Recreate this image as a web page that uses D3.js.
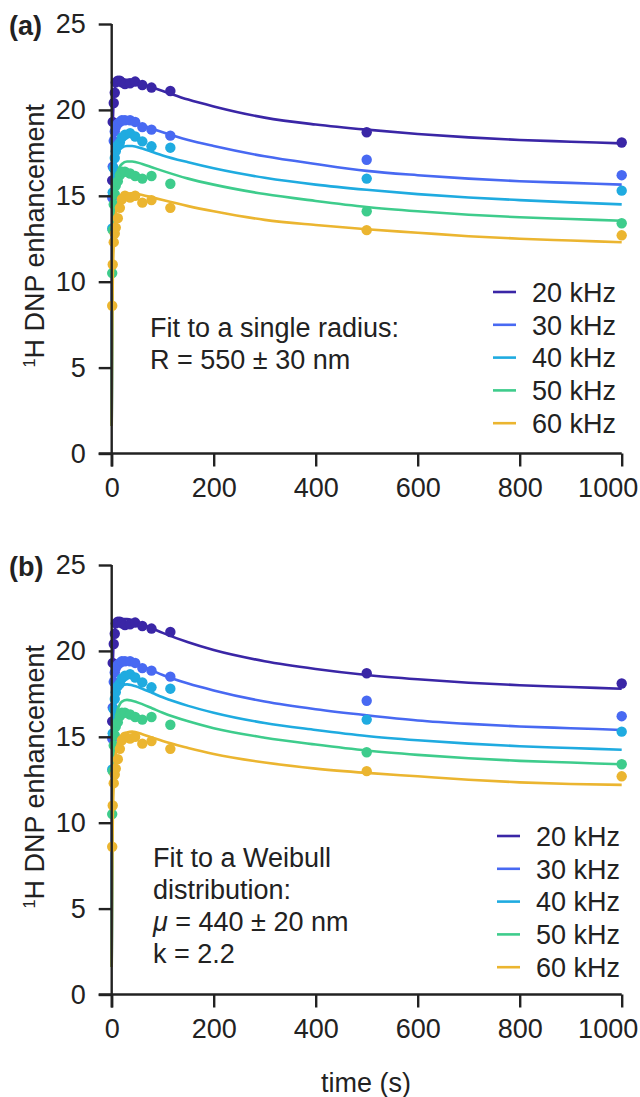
<!DOCTYPE html>
<html>
<head>
<meta charset="utf-8">
<script src="https://cdn.jsdelivr.net/npm/d3@7"></script>
<style>
  html, body { margin: 0; padding: 0; background: #fff; }
  svg { display: block; font-family: "Liberation Sans", Arial, Helvetica, sans-serif; }
  text { fill: #222; }
</style>
</head>
<body>
<svg id="chart" width="640" height="1097"></svg>
<script>
// Frequencies (MAS rates) and their colours
const series = ["20 kHz", "30 kHz", "40 kHz", "50 kHz", "60 kHz"];
const colors = ["#3a26a6", "#4869f2", "#1fabe0", "#3ecc8c", "#ebb530"];

// Measured build-up times (s)
const times = [1, 2, 4, 6, 8, 12, 16, 20, 26, 36, 46, 60, 78, 115, 500, 1000];

// Measured 1H DNP enhancements, one array per MAS rate
const meas20 = [15.9, 19.3, 20.4, 21.0, 21.6, 21.7, 21.7, 21.6, 21.5, 21.55, 21.65, 21.45, 21.3, 21.1, 18.7, 18.1];
const meas30 = [14.9, 16.7, 18.2, 18.75, 19.0, 19.2, 19.3, 19.4, 19.4, 19.4, 19.3, 19.0, 18.85, 18.5, 17.1, 16.2];
const meas40 = [13.1, 15.2, 16.6, 17.2, 17.6, 17.95, 18.1, 18.4, 18.55, 18.65, 18.45, 18.17, 17.88, 17.8, 16.0, 15.3];
const meas50 = [10.5, 13.0, 14.5, 15.1, 15.6, 15.85, 16.2, 16.4, 16.4, 16.3, 16.15, 16.0, 16.15, 15.7, 14.1, 13.4];
const meas60 = [8.6, 11.0, 12.3, 12.8, 13.15, 13.7, 14.3, 14.8, 15.0, 14.9, 15.0, 14.6, 14.75, 14.3, 13.0, 12.7];

// Times at which the fitted curves are sampled (s)
const fitTimes = [0, 1, 2, 4, 6, 8, 12, 16, 20, 30, 40, 60, 80, 100, 150, 200, 300, 400, 500, 600, 700, 800, 900, 1000];

// Fit (a): single radius
const fitA20 = [1.6, 15, 18.8, 20.6, 21.2, 21.45, 21.6, 21.7, 21.75, 21.75, 21.7, 21.5, 21.3, 21.1, 20.6, 20.2, 19.55, 19.15, 18.85, 18.6, 18.4, 18.25, 18.15, 18.05];
const fitA30 = [1.6, 12.5, 15.8, 17.9, 18.6, 18.95, 19.2, 19.3, 19.35, 19.35, 19.3, 19.1, 18.9, 18.7, 18.25, 17.9, 17.3, 16.85, 16.45, 16.2, 16.0, 15.85, 15.75, 15.65];
const fitA40 = [1.6, 10, 13.2, 15.6, 16.6, 17.1, 17.5, 17.7, 17.8, 17.9, 17.9, 17.75, 17.55, 17.35, 16.95, 16.6, 16.05, 15.65, 15.35, 15.1, 14.9, 14.75, 14.62, 14.5];
const fitA50 = [1.6, 8.5, 11.5, 14.0, 15.2, 15.8, 16.4, 16.7, 16.85, 17.0, 17.0, 16.85, 16.65, 16.45, 16.0, 15.65, 15.1, 14.7, 14.35, 14.1, 13.9, 13.75, 13.65, 13.55];
const fitA60 = [1.6, 7, 9.8, 12.2, 13.3, 13.9, 14.5, 14.8, 14.95, 15.1, 15.15, 15.05, 14.9, 14.75, 14.4, 14.1, 13.6, 13.3, 13.05, 12.85, 12.65, 12.5, 12.4, 12.3];

// Fit (b): Weibull distribution of radii
const fitB20 = [1.6, 15, 18.8, 20.6, 21.2, 21.5, 21.7, 21.8, 21.85, 21.85, 21.8, 21.55, 21.3, 21.05, 20.5, 20.05, 19.4, 18.95, 18.6, 18.35, 18.15, 18.0, 17.9, 17.8];
const fitB30 = [1.6, 12.5, 15.8, 17.9, 18.7, 19.05, 19.3, 19.4, 19.45, 19.45, 19.35, 19.1, 18.85, 18.6, 18.1, 17.7, 17.05, 16.6, 16.25, 15.95, 15.75, 15.6, 15.5, 15.4];
const fitB40 = [1.6, 10, 13.2, 15.7, 16.8, 17.3, 17.7, 17.9, 18.0, 18.05, 18.0, 17.8, 17.55, 17.3, 16.8, 16.4, 15.8, 15.4, 15.05, 14.8, 14.6, 14.45, 14.35, 14.25];
const fitB50 = [1.6, 8.5, 11.5, 14.2, 15.4, 16.0, 16.6, 16.9, 17.05, 17.15, 17.1, 16.9, 16.65, 16.4, 15.9, 15.5, 14.95, 14.55, 14.2, 13.95, 13.75, 13.6, 13.5, 13.4];
const fitB60 = [1.6, 7, 9.8, 12.3, 13.4, 14.0, 14.6, 14.95, 15.1, 15.25, 15.3, 15.15, 14.95, 14.75, 14.35, 14.0, 13.5, 13.15, 12.9, 12.7, 12.5, 12.35, 12.25, 12.2];

// Axis ticks
const xTicks = [0, 200, 400, 600, 800, 1000];
const yTicks = [0, 5, 10, 15, 20, 25];

const measured = [meas20, meas30, meas40, meas50, meas60];
const panels = [
  { tag: "(a)", top: 24, bottom: 453.5, fits: [fitA20, fitA30, fitA40, fitA50, fitA60],
    note: [["Fit to a single radius:"], ["R = 550 ± 30 nm"]], noteX: 150, noteY: 337,
    legX: 493, legY: 292 },
  { tag: "(b)", top: 565, bottom: 994.5, fits: [fitB20, fitB30, fitB40, fitB50, fitB60],
    note: [["Fit to a Weibull"], ["distribution:"], ["μ", " = 440 ± 20 nm"], ["k = 2.2"]], noteX: 153, noteY: 867,
    legX: 497, legY: 836 }
];

const svg = d3.select("#chart");
const x = d3.scaleLinear().domain([0, 1000]).range([111.7, 621.7]);
const FS = 27;
const tickLen = 13;
const axisColor = "#222";

panels.forEach((p, pi) => {
  const y = d3.scaleLinear().domain([0, 25]).range([p.bottom, p.top]);
  const g = svg.append("g");

  // Fitted curves and measured points
  p.fits.forEach((fit, si) => {
    const line = d3.line()
      .x((d, i) => x(fitTimes[i]))
      .y(d => y(d))
      .curve(d3.curveMonotoneX);
    g.append("path")
      .datum(fit)
      .attr("d", line)
      .attr("fill", "none")
      .attr("stroke", colors[si])
      .attr("stroke-width", 2.6);
    g.append("g").selectAll("circle")
      .data(measured[si])
      .join("circle")
      .attr("cx", (d, i) => x(times[i]))
      .attr("cy", d => y(d))
      .attr("r", 5.2)
      .attr("fill", colors[si]);
  });

  // Axes
  const xAxis = d3.axisBottom(x).tickValues(xTicks).tickFormat(d3.format("d"))
    .tickSize(tickLen).tickSizeOuter(0).tickPadding(10);
  const yAxis = d3.axisLeft(y).tickValues(yTicks).tickFormat(d3.format("d"))
    .tickSize(tickLen).tickSizeOuter(0).tickPadding(13);

  const gx = g.append("g").attr("transform", `translate(0,${p.bottom})`).call(xAxis);
  const gy = g.append("g").attr("transform", `translate(${x(0)},0)`).call(yAxis);
  [gx, gy].forEach(a => {
    a.select(".domain").remove();
    a.selectAll("line").attr("stroke", axisColor).attr("stroke-width", 2.4);
    a.selectAll("text").attr("font-size", FS).attr("fill", "#222")
      .attr("font-family", "'Liberation Sans', Arial, sans-serif");
  });
  gx.selectAll("text").attr("dy", "0.76em");
  // keep the last x label inside the frame
  gx.selectAll(".tick").filter(d => d === 1000).select("text")
    .attr("text-anchor", "end").attr("x", 16);

  // axis lines crossing at the origin
  g.append("line")
    .attr("x1", x(0) - tickLen).attr("x2", x(1000))
    .attr("y1", y(0)).attr("y2", y(0))
    .attr("stroke", axisColor).attr("stroke-width", 2.4);
  g.append("line")
    .attr("x1", x(0)).attr("x2", x(0))
    .attr("y1", y(25)).attr("y2", y(0) + tickLen)
    .attr("stroke", axisColor).attr("stroke-width", 2.4);

  // Panel tag
  g.append("text")
    .attr("x", 9).attr("y", p.top + 11)
    .attr("font-size", FS).attr("font-weight", "bold")
    .text(p.tag);

  // Y-axis title
  const yt = g.append("text")
    .attr("transform", `translate(44,${(p.top + p.bottom) / 2 - 3}) rotate(-90)`)
    .attr("text-anchor", "middle")
    .attr("font-size", FS);
  yt.append("tspan").attr("font-size", FS * 0.6).attr("dy", -9).text("1");
  yt.append("tspan").attr("dy", 9).text("H DNP enhancement");

  // Fit annotation
  p.note.forEach((parts, li) => {
    const t = g.append("text")
      .attr("x", p.noteX).attr("y", p.noteY + li * 32)
      .attr("font-size", FS);
    if (parts.length === 2) {
      t.append("tspan").attr("font-style", "italic").text(parts[0]);
      t.append("tspan").text(parts[1]);
    } else {
      t.text(parts[0]);
    }
  });

  // Legend
  const leg = g.append("g");
  series.forEach((name, si) => {
    const yy = p.legY + si * 32.8;
    leg.append("line")
      .attr("x1", p.legX).attr("x2", p.legX + 23)
      .attr("y1", yy).attr("y2", yy)
      .attr("stroke", colors[si]).attr("stroke-width", 2.6);
    leg.append("text")
      .attr("x", p.legX + 39).attr("y", yy)
      .attr("dy", "0.36em")
      .attr("font-size", FS)
      .text(name);
  });
});

// X-axis title
svg.append("text")
  .attr("x", 366).attr("y", 1092)
  .attr("text-anchor", "middle")
  .attr("font-size", FS)
  .text("time (s)");
</script>
</body>
</html>
